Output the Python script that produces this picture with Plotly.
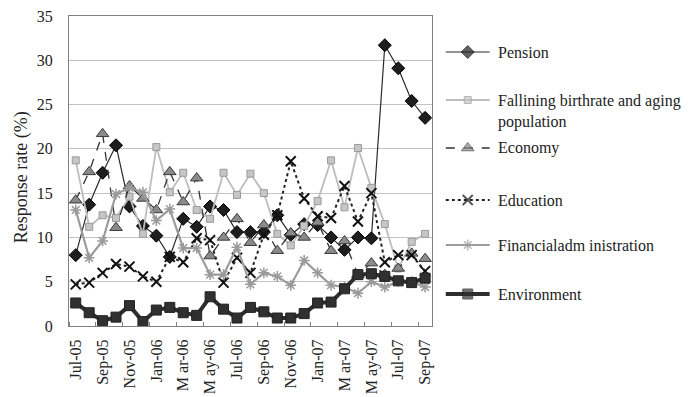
import plotly.graph_objects as go

# Monthly survey, Jul-05 .. Sep-07
months = ["Jul-05", "Aug-05", "Sep-05", "Oct-05", "Nov-05", "Dec-05",
          "Jan-06", "Feb-06", "M ar-06", "Apr-06", "M ay-06", "Jun-06",
          "Jul-06", "Aug-06", "Sep-06", "Oct-06", "Nov-06", "Dec-06",
          "Jan-07", "Feb-07", "M ar-07", "Apr-07", "M ay-07", "Jun-07",
          "Jul-07", "Aug-07", "Sep-07"]

pension = [8.0, 13.7, 17.3, 20.4, 13.5, 11.3, 10.2, 7.8, 12.1, 11.2, 13.5, 13.1,
           10.6, 10.6, 10.6, 12.5, 10.3, 11.5, 11.4, 10.0, 8.6, 10.0, 9.9, 31.7,
           29.1, 25.4, 23.5]
birthrate = [18.7, 11.2, 12.5, 12.2, 14.6, 10.4, 20.2, 15.1, 17.3, 13.1, 12.1, 17.3,
             14.8, 17.2, 15.0, 10.4, 9.1, 11.3, 14.1, 18.7, 13.4, 20.1, 15.6, 11.5,
             6.5, 9.5, 10.4]
economy = [14.2, 17.4, 21.7, 11.1, 15.8, 14.4, 13.1, 17.4, 14.0, 16.7, 7.9, 10.0,
           12.1, 9.4, 11.4, 8.5, 10.5, 10.0, 11.7, 8.5, 9.6, 5.8, 7.1, 5.8,
           6.5, 8.2, 7.6]
education = [4.7, 4.9, 6.0, 7.0, 6.7, 5.6, 5.0, 7.8, 7.2, 9.9, 9.7, 4.9,
             7.7, 6.0, 10.3, 12.5, 18.6, 14.4, 12.4, 12.2, 15.8, 11.8, 15.0, 7.2,
             8.0, 8.0, 6.2]
financial = [13.1, 7.7, 9.6, 14.9, 15.6, 15.1, 11.9, 13.2, 8.8, 8.8, 5.8, 5.8,
             8.9, 4.7, 6.0, 5.6, 4.6, 7.4, 6.0, 4.6, 4.4, 3.7, 5.0, 4.4,
             5.0, 5.0, 4.4]
environment = [2.6, 1.5, 0.6, 1.0, 2.3, 0.5, 1.8, 2.1, 1.5, 1.2, 3.3, 1.9,
               0.9, 2.1, 1.6, 0.9, 0.9, 1.4, 2.6, 2.7, 4.2, 5.8, 5.9, 5.6,
               5.1, 4.9, 5.4]

names = ["Pension", "Fallining birthrate and aging<br>population", "Economy",
         "Education", "Financialadm inistration", "Environment"]
series = [pension, birthrate, economy, education, financial, environment]

SERIF = "'Liberation Serif', 'Times New Roman', serif"

styles = [
    dict(line=dict(color="#2a2a2a", width=1.2),
         marker=dict(symbol="diamond", size=10, color="#1e1e1e",
                     line=dict(color="#000000", width=1))),
    dict(line=dict(color="#bdbdbd", width=1.8),
         marker=dict(symbol="square", size=7, color="#c6c6c6",
                     line=dict(color="#9a9a9a", width=1))),
    dict(line=dict(color="#333333", width=1.3, dash="dash"),
         marker=dict(symbol="triangle-up", size=11, color="#8a8a8a",
                     line=dict(color="#3a3a3a", width=1))),
    dict(line=dict(color="#222222", width=2, dash="dot"),
         marker=dict(symbol="x-thin", size=10, color="#111111",
                     line=dict(color="#111111", width=2))),
    dict(line=dict(color="#9c9c9c", width=2.2),
         marker=dict(symbol="asterisk", size=9, color="#9a9a9a",
                     line=dict(color="#9a9a9a", width=1.5))),
    dict(line=dict(color="#2e2e2e", width=4),
         marker=dict(symbol="square", size=10, color="#303030",
                     line=dict(color="#202020", width=1))),
]

x = list(range(len(months)))
fig = go.Figure()
for name, vals, st in zip(names, series, styles):
    fig.add_trace(go.Scatter(x=x, y=vals, mode="lines+markers", name=name,
                             showlegend=False, line=st["line"], marker=st["marker"],
                             xaxis="x", yaxis="y"))

# Legend key drawn on a pixel-scaled helper axis to the right of the plot
key_y = [52, 100, 148, 200, 245, 294]
key_text_y = [52, 111, 148, 200, 245, 294]
for name, st, ky, ty in zip(names, styles, key_y, key_text_y):
    m = dict(st["marker"])
    m["size"] = [0, st["marker"]["size"], 0]
    fig.add_trace(go.Scatter(x=[447, 469, 491], y=[ky, ky, ky], mode="lines+markers",
                             line=st["line"], marker=m, showlegend=False,
                             hoverinfo="skip", xaxis="x2", yaxis="y2"))
    fig.add_annotation(x=497, y=ty, xref="x2", yref="y2", text=name,
                       showarrow=False, xanchor="left", yanchor="middle",
                       align="left", font=dict(family=SERIF, size=16, color="#222"))

plot_w = 697 - 69
plot_h = 326 - 16

# Vertical axis title
fig.add_annotation(x=(22 - 69) / plot_w, y=(326 - 177) / plot_h, xref="paper",
                   yref="paper", text="Response rate (%)", textangle=-90,
                   showarrow=False, xanchor="center", yanchor="middle",
                   font=dict(family=SERIF, size=18, color="#222"))

fig.update_layout(
    width=697, height=397,
    margin=dict(l=69, r=0, t=16, b=71),
    paper_bgcolor="white", plot_bgcolor="white",
    font=dict(family=SERIF, size=16, color="#222"),
    xaxis=dict(domain=[0, (433 - 69) / plot_w], range=[-0.5, len(months) - 0.5],
               tickmode="array", tickvals=x[::2], ticktext=months[::2],
               tickangle=-90, showgrid=False, zeroline=False,
               showline=True, linecolor="#808080", linewidth=1.2, mirror=True,
               ticks="", ticklabelstandoff=6,
               tickfont=dict(family=SERIF, size=16, color="#222"),
               minor=dict(tickmode="array",
                          tickvals=[i - 0.5 for i in range(0, len(months) + 1, 2)],
                          ticks="inside", ticklen=4, tickcolor="#808080")),
    yaxis=dict(range=[0, 35], dtick=5, showgrid=True, gridcolor="#c4c4c4",
               gridwidth=1.3, zeroline=False, showline=True, linecolor="#808080",
               linewidth=1.2, mirror=True, ticks="", ticklabelstandoff=12,
               tickfont=dict(family=SERIF, size=16, color="#222")),
    xaxis2=dict(domain=[(440 - 69) / plot_w, 1], range=[440, 697], visible=False,
                anchor="y2", fixedrange=True),
    yaxis2=dict(domain=[0, 1], range=[326, 16], visible=False, anchor="x2",
                fixedrange=True),
)

fig.write_html("out.html")
